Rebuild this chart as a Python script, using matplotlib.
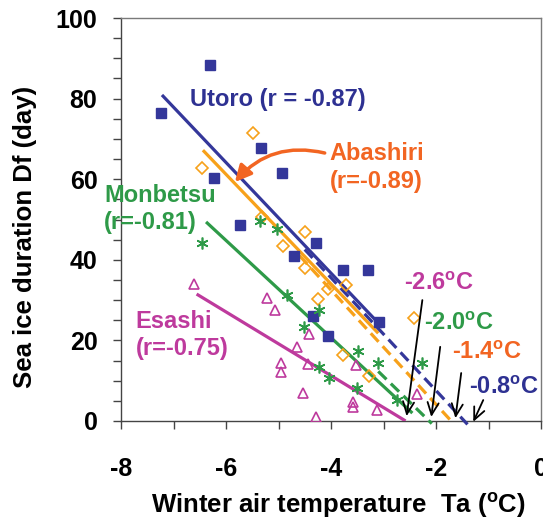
import numpy as np
import matplotlib
matplotlib.use("Agg")
import matplotlib.pyplot as plt
from matplotlib.ticker import MultipleLocator

plt.rcParams['font.family'] = ['Liberation Sans', 'DejaVu Sans']
plt.rcParams['mathtext.fontset'] = 'custom'
plt.rcParams['mathtext.rm'] = 'Liberation Sans'
plt.rcParams['mathtext.bf'] = 'Liberation Sans:bold'

# ---- data ----
utoro_x = [-7.24, -6.31, -6.23, -5.34, -4.94, -5.74, -4.29, -4.71, -3.78, -3.30, -3.08, -4.35, -4.06]
utoro_y = [76.4, 88.3, 60.3, 67.7, 61.5, 48.6, 44.2, 40.9, 37.5, 37.5, 24.6, 26.1, 21.1]

abashiri_x = [-5.49, -6.46, -5.32, -4.50, -4.92, -4.50, -4.06, -3.72, -4.24, -3.78, -3.27, -2.41]
abashiri_y = [71.5, 62.8, 50.6, 46.9, 43.4, 38.0, 32.8, 33.7, 30.3, 16.4, 11.2, 25.6]

monbetsu_x = [-6.46, -5.36, -5.02, -4.83, -4.22, -4.52, -3.49, -3.11, -4.22, -4.03, -3.51, -2.75, -2.26]
monbetsu_y = [44.2, 49.6, 47.6, 31.3, 27.5, 23.3, 17.4, 14.4, 13.4, 10.7, 8.2, 5.2, 14.4]

esashi_x = [-6.61, -5.22, -5.07, -4.41, -4.65, -4.96, -4.96, -4.44, -4.54, -3.59, -3.59, -3.13, -4.29, -3.53, -2.37]
esashi_y = [34.0, 30.5, 27.5, 21.6, 18.4, 14.4, 12.2, 14.1, 6.9, 4.7, 3.5, 2.7, 1.0, 13.9, 6.7]

# regression lines: solid part (start x, start y, slope, end x)
solid_x0 = [-7.22, -6.44, -6.38, -6.56]
solid_y0 = [80.9, 67.2, 49.4, 31.5]
solid_slope = [-13.73, -13.6, -12.07, -7.91]
solid_x1 = [-3.02, -3.10, -2.45, -2.58]
# dashed extrapolations: (start x, slope, x-intercept, end x)
dash_x0 = [-4.5, -4.6, -3.1]
dash_slope = [-14.0, -14.2, -12.7]
dash_xint = [-1.46, -1.71, -2.13]
dash_x1 = [-1.40, -1.66, -2.08]

labels_r = ["Utoro (r = -0.87)", "Abashiri\n(r=-0.89)", "Monbetsu\n(r=-0.81)", "Esashi\n(r=-0.75)"]
thresh_labels = ["-0.8", "-1.4", "-2.0", "-2.6"]
x_ticks = [-8, -6, -4, -2, 0]
y_ticks = [0, 20, 40, 60, 80, 100]

blue = '#34379A'
orange = '#F7A11A'
orange_txt = '#F26522'
green = '#2E9A48'
magenta = '#BE3A9D'

fig = plt.figure(figsize=(5.43, 5.21), dpi=100)
ax = fig.add_axes([121/543, 1-421/521, (541-121)/543, (421-18)/521])
ax.set_xlim(-8, 0)
ax.set_ylim(0, 100)

line_cols = [blue, orange, green, magenta]
lw = 2.3
for i in range(4):
    xs = np.array([solid_x0[i], solid_x1[i]])
    ys = solid_y0[i] + solid_slope[i] * (xs - solid_x0[i])
    ax.plot(xs, ys, color=line_cols[i], lw=lw, solid_capstyle='butt', zorder=3)
for i in range(3):
    xs = np.array([dash_x0[i], dash_x1[i]])
    ys = dash_slope[i] * (xs - dash_xint[i])
    ax.plot(xs, ys, color=line_cols[i], lw=lw, dashes=(3.6, 1.9), clip_on=False, zorder=3)

ax.plot(utoro_x, utoro_y, 's', ms=7.5, color=blue, mec=blue, zorder=4)
ax.plot(abashiri_x, abashiri_y, 'D', ms=6.3, mfc='none', mec=orange, mew=1.2, zorder=4)
ax.plot(monbetsu_x, monbetsu_y, ls='none', marker=(6, 2, 0), ms=8.5, mec=green, mew=1.2, zorder=4)
ax.plot(esashi_x, esashi_y, '^', ms=7.8, mfc='none', mec=magenta, mew=1.2, zorder=4)

fs = 17
ax.text(-6.69, 79.7, labels_r[0], color='#2E3192', fontsize=fs, fontweight='bold', va='center', ha='left')
ax.text(-4.03, 62.9, labels_r[1], color=orange_txt, fontsize=fs, fontweight='bold', va='center', ha='left', linespacing=1.25)
ax.text(-8.32, 52.6, labels_r[2], color=green, fontsize=fs, fontweight='bold', va='center', ha='left', linespacing=1.25, zorder=6)
ax.text(-7.72, 21.4, labels_r[3], color=magenta, fontsize=fs, fontweight='bold', va='center', ha='left', linespacing=1.25)

# curved arrow from Abashiri label
ax.annotate('', xy=(-5.83, 59.3), xytext=(-4.12, 66.5),
            arrowprops=dict(arrowstyle='-|>,head_length=0.7,head_width=0.35', color=orange_txt,
                            lw=2.5, mutation_scale=14, connectionstyle='arc3,rad=0.3',
                            shrinkA=0, shrinkB=0))

# threshold labels and arrows
th_pos = [(-0.70, 8.2), (-1.02, 16.9), (-1.56, 24.3), (-1.95, 34.0)]
th_cols = ['#2E3192', orange_txt, green, magenta]
for lab, (tx, ty), c in zip(thresh_labels, th_pos, th_cols):
    ax.text(tx, ty, lab + r'$^{\mathbf{o}}$C', color=c, fontsize=fs, fontweight='bold',
            ha='center', va='center', zorder=6)

arrow_from = [(-1.10, 5.2), (-1.52, 11.9), (-1.92, 18.4), (-2.26, 30.0)]
arrow_to = [(-1.29, -0.2), (-1.63, 0.7), (-2.09, 1.0), (-2.56, 1.2)]
for (x0, y0), (x1, y1) in zip(arrow_from, arrow_to):
    ax.annotate('', xy=(x1, y1), xytext=(x0, y0),
                arrowprops=dict(arrowstyle='->,head_length=0.55,head_width=0.25', color='black',
                                lw=1.3, mutation_scale=16, shrinkA=0, shrinkB=0),
                annotation_clip=False, zorder=7)

# axes styling
for s in ax.spines.values():
    s.set_color('#7a7a7a')
    s.set_linewidth(1.0)
ax.spines['left'].set_color('#444444')
ax.spines['bottom'].set_color('#444444')

ax.xaxis.set_minor_locator(MultipleLocator(1))
ax.yaxis.set_minor_locator(MultipleLocator(5))
ax.tick_params(axis='x', which='both', direction='out', length=6, width=1, color='#444444')
ax.tick_params(axis='x', which='major', pad=20)
ax.tick_params(axis='y', which='both', direction='out', length=6, width=1, color='#444444')
ax.tick_params(axis='y', which='major', pad=11)
ax.set_xticks(x_ticks)
ax.set_xticklabels([str(v) for v in x_ticks], fontweight='bold', fontsize=18)
ax.set_yticks(y_ticks)
ax.set_yticklabels([str(v) for v in y_ticks], fontweight='bold', fontsize=18)

fig.text(338/543, 1-505/521, r'Winter air temperature  Ta ($^{\mathbf{o}}$C)', fontsize=18.5,
         fontweight='bold', ha='center', va='center')
fig.text(25/543, 1-237/521, 'Sea ice duration Df (day)', fontsize=18.5, fontweight='bold',
         rotation=90, ha='center', va='center')

fig.savefig('out.png', dpi=100)
